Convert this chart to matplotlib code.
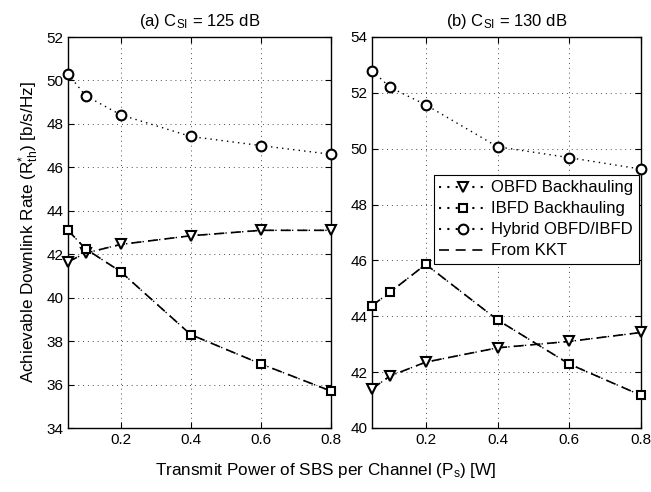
import matplotlib
matplotlib.use('Agg')
import matplotlib.pyplot as plt
from matplotlib.lines import Line2D

plt.rcParams['font.family'] = ['Liberation Sans', 'DejaVu Sans']
plt.rcParams['mathtext.fontset'] = 'custom'
plt.rcParams['mathtext.rm'] = 'Liberation Sans'
plt.rcParams['mathtext.it'] = 'Liberation Sans'

# Transmit power per channel [W]
ps = [0.05, 0.1, 0.2, 0.4, 0.6, 0.8]

# (a) C_SI = 125 dB
obfd_a = [41.65, 42.05, 42.45, 42.85, 43.1, 43.1]
ibfd_a = [43.1, 42.25, 41.2, 38.3, 36.95, 35.7]
hybrid_a = [50.3, 49.3, 48.42, 47.42, 47.0, 46.6]

# (b) C_SI = 130 dB
obfd_b = [41.4, 41.86, 42.36, 42.87, 43.1, 43.42]
ibfd_b = [44.38, 44.86, 45.86, 43.87, 42.29, 41.17]
hybrid_b = [52.8, 52.2, 51.57, 50.07, 49.68, 49.27]

titles = [r'(a) C$_{\mathrm{SI}}$ = 125 dB', r'(b) C$_{\mathrm{SI}}$ = 130 dB']
ylims = [(34, 52), (40, 54)]

fig = plt.figure(figsize=(6.51, 4.92), dpi=100)
ax_a = fig.add_axes([68/651, 1 - 428/492, (331 - 68)/651, (428 - 37)/492])
ax_b = fig.add_axes([372/651, 1 - 428/492, (641 - 372)/651, (428 - 37)/492])

data = [(obfd_a, ibfd_a, hybrid_a), (obfd_b, ibfd_b, hybrid_b)]
dotted = (0, (1, 3))

for ax, (obfd, ibfd, hybrid), title, ylim in zip([ax_a, ax_b], data, titles, ylims):
    mk = dict(color='k', mfc='white', mec='k', mew=1.5, ms=7, lw=1.0, clip_on=False, zorder=3)
    # simulated points (dotted) and KKT solution (dashed) overlap
    ax.plot(ps, obfd, ls=dotted, marker='v', **mk)
    ax.plot(ps, ibfd, ls=dotted, marker='s', **dict(mk, ms=5.8))
    ax.plot(ps, hybrid, ls=dotted, marker='o', **mk)
    ax.plot(ps, obfd, ls=(0, (6, 4)), color='k', lw=1.2, zorder=2)
    ax.plot(ps, ibfd, ls=(0, (6, 4)), color='k', lw=1.2, zorder=2)

    ax.set_xlim(0.05, 0.8)
    ax.set_ylim(*ylim)
    ax.set_xticks([0.2, 0.4, 0.6, 0.8])
    ax.set_yticks(range(ylim[0], ylim[1] + 1, 2))
    ax.grid(True, linestyle=(0, (1, 4)), color='k', lw=0.7, alpha=0.7)
    ax.tick_params(direction='in', labelsize=11, length=4, top=True, right=True)
    for sp in ax.spines.values():
        sp.set_linewidth(1.0)
    ax.set_title(title, fontsize=12, pad=8)

ax_a.set_ylabel(r'Achievable Downlink Rate (R$^{*}_{\mathrm{th}}$) [b/s/Hz]', fontsize=12.3)
fig.text(0.5, 1 - 470/492, r'Transmit Power of SBS per Channel (P$_{\mathrm{s}}$) [W]',
         ha='center', va='center', fontsize=12.3)

handles = [
    Line2D([], [], ls=dotted, color='k', marker='v', mfc='white', mec='k', mew=1.5, ms=7),
    Line2D([], [], ls=dotted, color='k', marker='s', mfc='white', mec='k', mew=1.5, ms=5.8),
    Line2D([], [], ls=dotted, color='k', marker='o', mfc='white', mec='k', mew=1.5, ms=7),
    Line2D([], [], ls=(0, (6, 4)), color='k', lw=1.2),
]
labels = ['OBFD Backhauling', 'IBFD Backhauling', 'Hybrid OBFD/IBFD', 'From KKT']
leg = ax_b.legend(handles, labels, loc='upper right', bbox_to_anchor=(0.993, 0.648),
                  fontsize=12, frameon=True, fancybox=False, edgecolor='k',
                  framealpha=1, borderaxespad=0.0, handlelength=2.8, labelspacing=0.36,
                  borderpad=0.35, handletextpad=0.3)
leg.get_frame().set_linewidth(0.8)

fig.savefig('out.png', dpi=100)
